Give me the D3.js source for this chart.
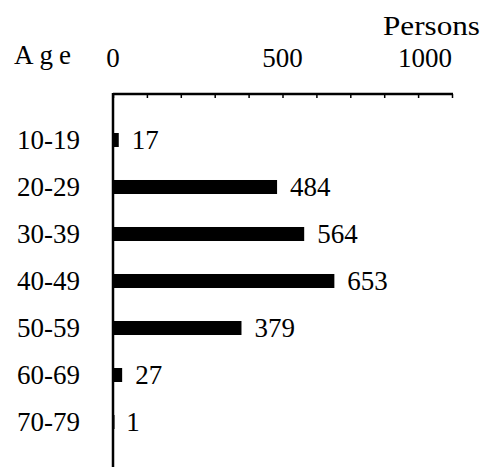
<!DOCTYPE html>
<html>
<head>
<meta charset="utf-8">
<script src="https://cdn.jsdelivr.net/npm/d3@7"></script>
<style>
  body { margin: 0; background: #fff; }
  svg text { font-family: "Liberation Serif", "DejaVu Serif", serif; fill: #000; }
</style>
</head>
<body>
<div id="chart"></div>
<script>
// data
var ageGroups = ["10-19", "20-29", "30-39", "40-49", "50-59", "60-69", "70-79"];
var persons = [17, 484, 564, 653, 379, 27, 1];
var tickValues = [0, 500, 1000];

var width = 484,
    height = 467;

var svg = d3.select("#chart")
  .append("svg")
    .attr("width", width)
    .attr("height", height);

var x = d3.scaleLinear()
  .domain([0, 1000])
  .range([113, 452]);

var y = d3.scaleBand()
  .domain(ageGroups)
  .range([116.5, 445.5])
  .paddingInner(0.702)
  .paddingOuter(0.351);

var axisY = 94;

// top axis: small ticks every 100, labels at 0/500/1000
var xAxis = svg.append("g")
  .attr("transform", "translate(0," + axisY + ")")
  .call(d3.axisBottom(x)
    .tickValues(d3.range(0, 1001, 100))
    .tickSize(4)
    .tickFormat(""));
xAxis.select(".domain").remove();
xAxis.selectAll(".tick line").attr("stroke", "#000").attr("stroke-width", 1.5);

svg.append("line")
  .attr("x1", x(0)).attr("x2", x(1000) + 1)
  .attr("y1", axisY).attr("y2", axisY)
  .attr("stroke", "#000").attr("stroke-width", 2.5);

svg.append("g")
  .selectAll("text")
  .data(tickValues)
  .enter()
  .append("text")
    .attr("x", function(d) { return x(d); })
    .attr("y", 67)
    .attr("text-anchor", function(d) { return d === 1000 ? "end" : "middle"; })
    .attr("font-size", 27)
    .text(function(d) { return d; });

// left axis line
svg.append("line")
  .attr("x1", x(0)).attr("x2", x(0))
  .attr("y1", axisY - 1).attr("y2", height)
  .attr("stroke", "#000").attr("stroke-width", 2.5);

// bars
svg.append("g")
  .selectAll("rect")
  .data(persons)
  .enter()
  .append("rect")
    .attr("x", x(0))
    .attr("y", function(d, i) { return y(ageGroups[i]); })
    .attr("width", function(d) { return Math.max(x(d) - x(0), 1.5); })
    .attr("height", y.bandwidth())
    .attr("fill", "#000");

// value labels
svg.append("g")
  .selectAll("text")
  .data(persons)
  .enter()
  .append("text")
    .attr("x", function(d) { return x(d) + 13; })
    .attr("y", function(d, i) { return y(ageGroups[i]) + y.bandwidth() / 2; })
    .attr("dy", "0.35em")
    .attr("font-size", 27)
    .text(function(d) { return d; });

// category labels
svg.append("g")
  .selectAll("text")
  .data(ageGroups)
  .enter()
  .append("text")
    .attr("x", 80)
    .attr("y", function(d) { return y(d) + y.bandwidth() / 2; })
    .attr("dy", "0.35em")
    .attr("text-anchor", "end")
    .attr("font-size", 27)
    .text(function(d) { return d; });

// titles
svg.append("text")
  .attr("x", 14)
  .attr("y", 64)
  .attr("font-size", 27)
  .attr("letter-spacing", 6)
  .text("Age");

svg.append("text")
  .attr("x", 383)
  .attr("y", 35)
  .attr("font-size", 27)
  .attr("textLength", 97)
  .attr("lengthAdjust", "spacingAndGlyphs")
  .text("Persons");
</script>
</body>
</html>
